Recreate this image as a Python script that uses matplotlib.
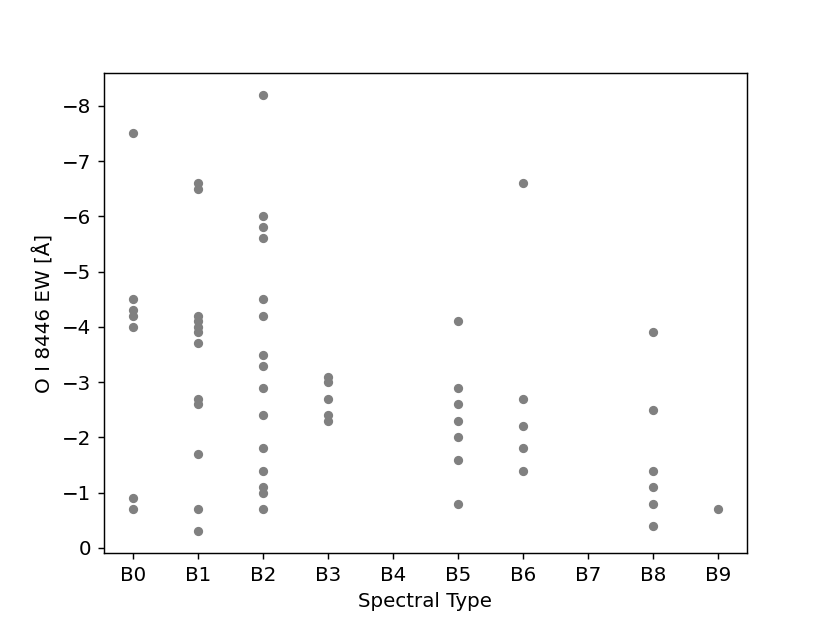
import matplotlib
matplotlib.use('Agg')
import matplotlib.pyplot as plt

# spectral types on the x axis
types = ['B0', 'B1', 'B2', 'B3', 'B4', 'B5', 'B6', 'B7', 'B8', 'B9']

# O I 8446 equivalent widths per spectral type
ew_B0 = [-7.5, -4.5, -4.3, -4.2, -4.0, -0.9, -0.7]
ew_B1 = [-6.6, -6.5, -4.2, -4.1, -4.0, -3.9, -3.7, -2.7, -2.6, -1.7, -0.7, -0.3]
ew_B2 = [-8.2, -6.0, -5.8, -5.6, -4.5, -4.2, -3.5, -3.3, -2.9, -2.4, -1.8, -1.4,
         -1.1, -1.0, -0.7]
ew_B3 = [-3.1, -3.0, -2.7, -2.4, -2.3]
ew_B5 = [-4.1, -2.9, -2.6, -2.3, -2.0, -1.6, -0.8]
ew_B6 = [-6.6, -2.7, -2.2, -1.8, -1.4]
ew_B8 = [-3.9, -2.5, -1.4, -1.1, -0.8, -0.4]
ew_B9 = [-0.7]

groups = {'B0': ew_B0, 'B1': ew_B1, 'B2': ew_B2, 'B3': ew_B3,
          'B5': ew_B5, 'B6': ew_B6, 'B8': ew_B8, 'B9': ew_B9}

x = []
y = []
for name, vals in groups.items():
    for v in vals:
        x.append(types.index(name))
        y.append(v)

plt.rcParams['font.size'] = 11
fig, ax = plt.subplots(figsize=(830 / 130, 623 / 130), dpi=130)
fig.subplots_adjust(left=0.125, right=0.9, top=0.883, bottom=0.112)
ax.scatter(x, y, s=17, color='grey')
ax.set_xticks(range(len(types)))
ax.set_xticklabels(types)
ax.invert_yaxis()
ax.set_xlabel('Spectral Type')
ax.set_ylabel('O I 8446 EW [Å]')
fig.savefig('out.png')
